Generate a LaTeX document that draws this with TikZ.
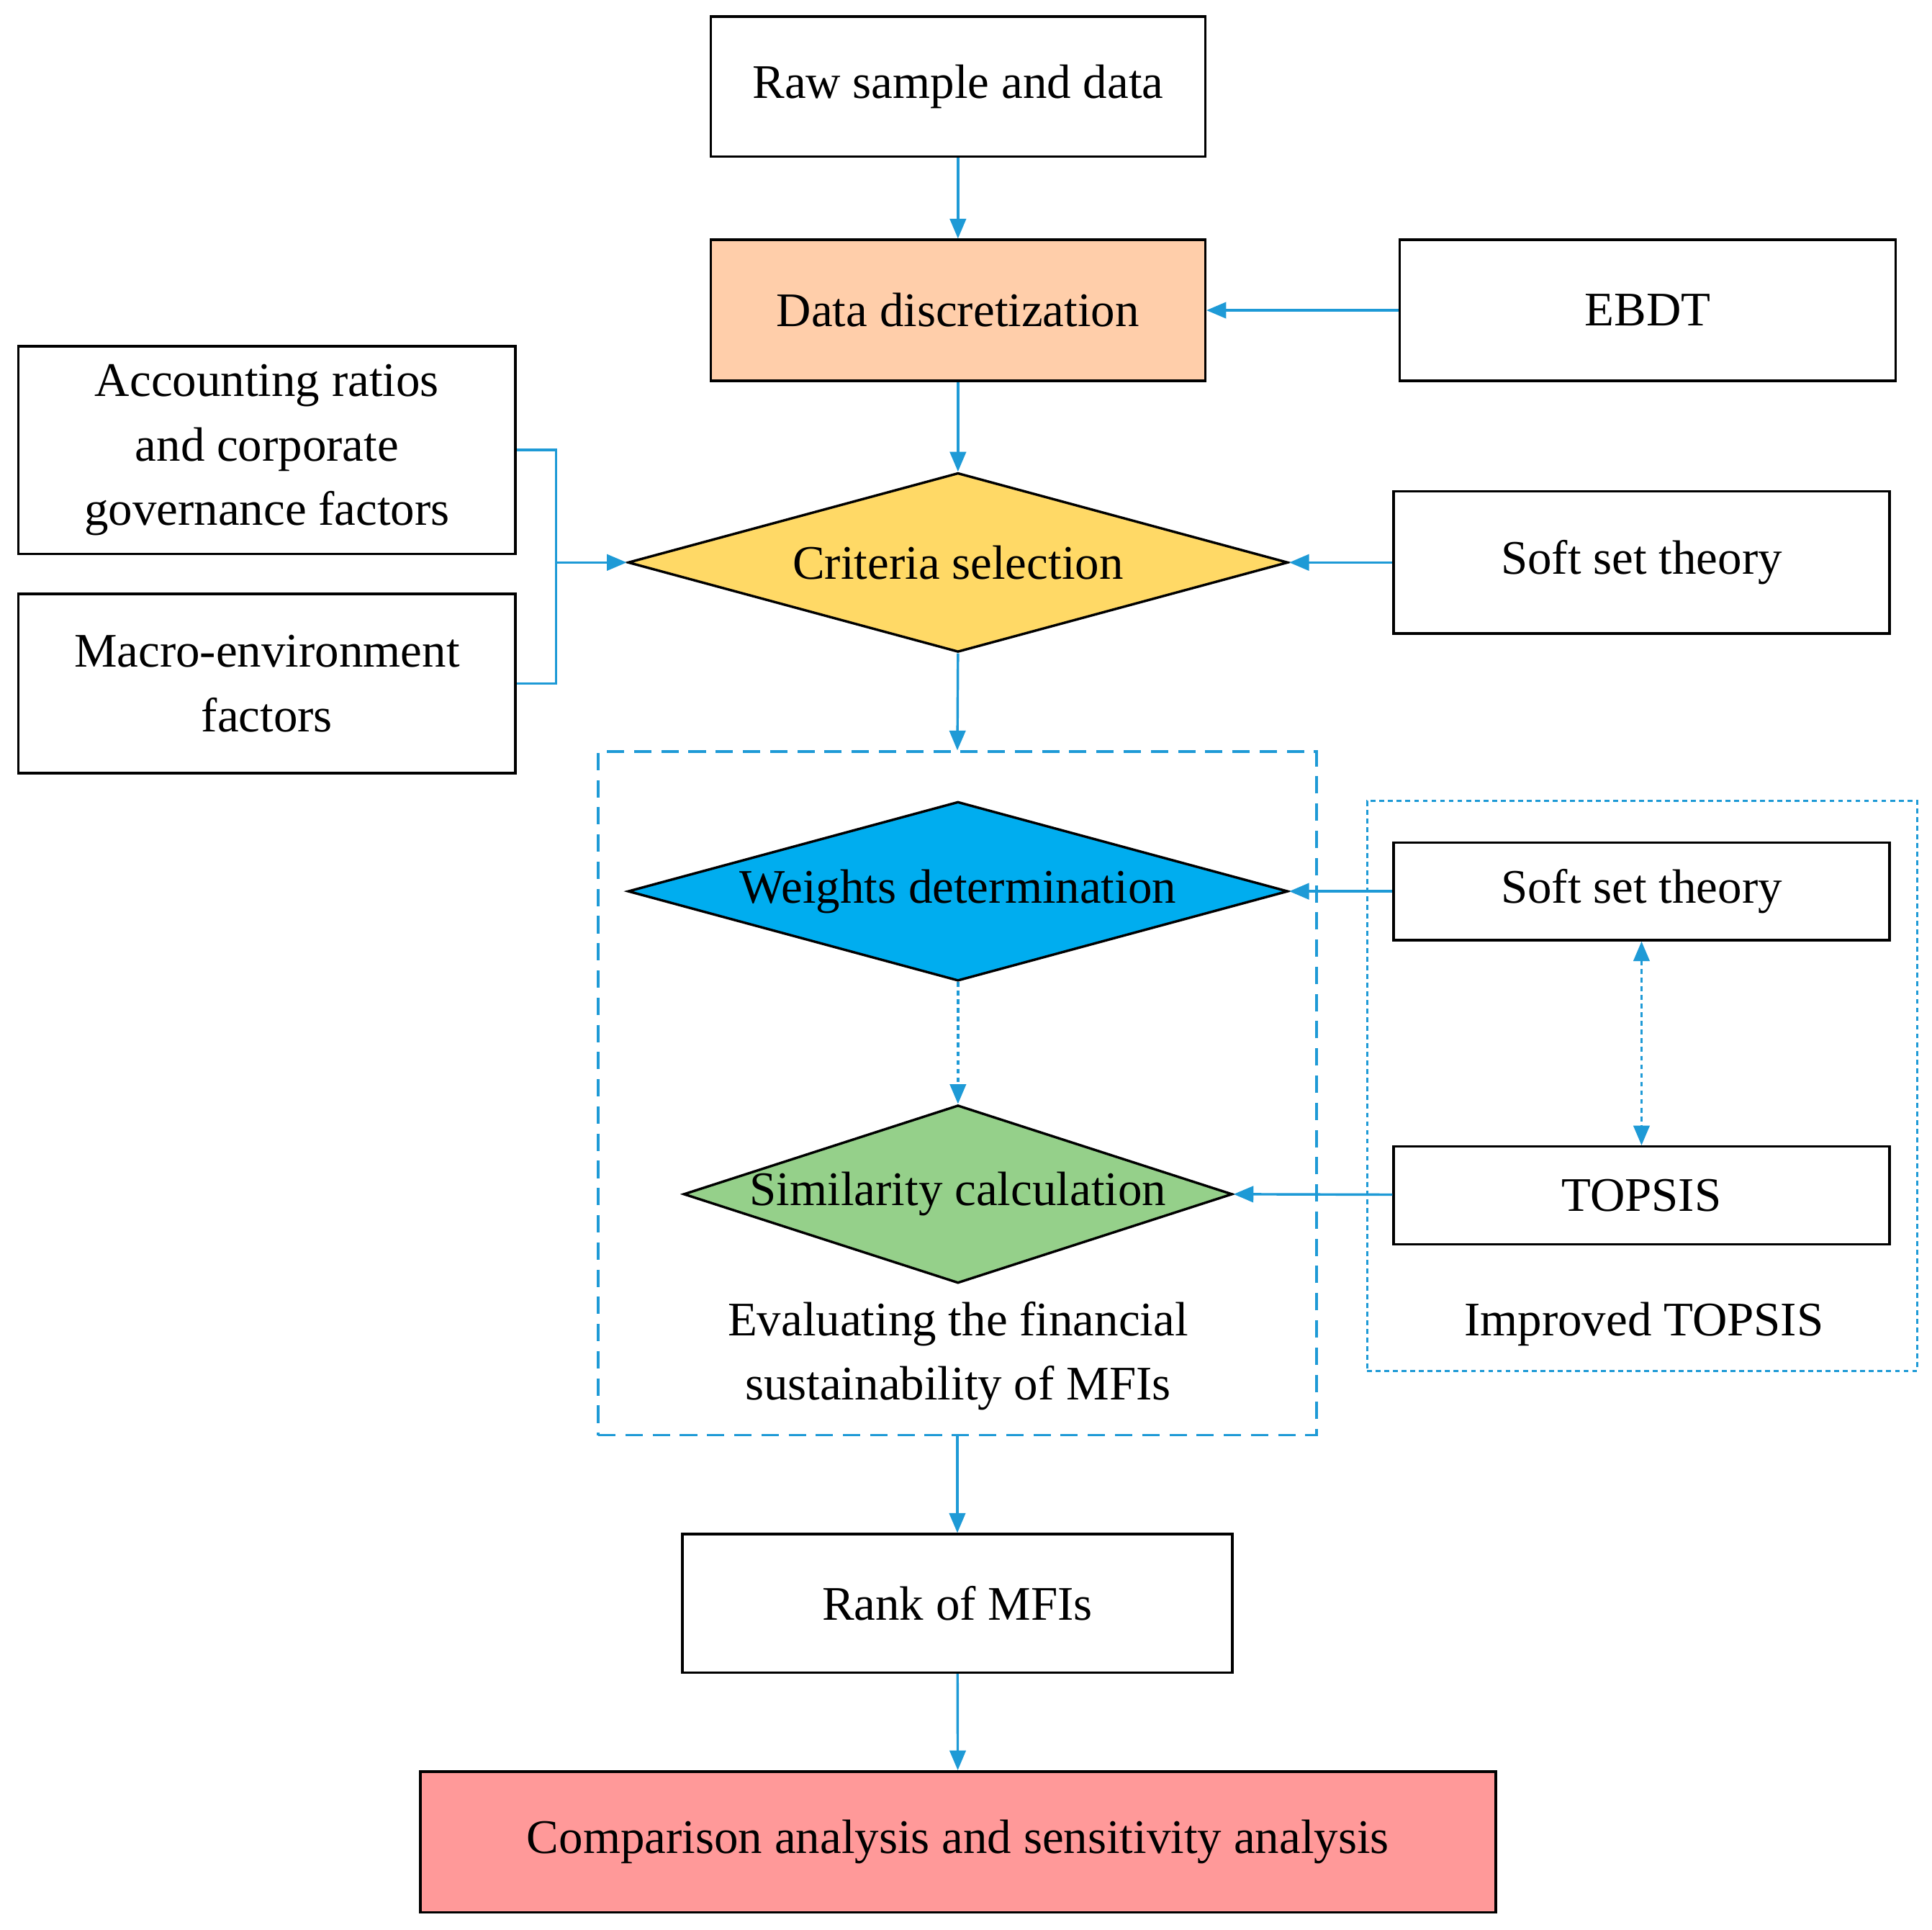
\documentclass[tikz,border=0pt]{standalone}
\usepackage{fontspec}
\setmainfont{Liberation Serif}
\usetikzlibrary{shapes.geometric,arrows.meta}
\definecolor{ln}{HTML}{1E9AD6}
\begin{document}
\begin{tikzpicture}[x=1pt,y=-1pt,
  every node/.style={font=\fontsize{39}{52}\selectfont},
  box/.style={draw=black,line width=2pt,rectangle,inner sep=0pt,align=center},
  dia/.style={draw=black,line width=2pt,diamond,inner sep=0pt},
  arr/.style={draw=ln,line width=2pt,-{Triangle[length=16pt,width=13pt]}},
  lnk/.style={draw=ln,line width=2pt}]
\useasboundingbox (0,0) rectangle (1563,1561);
\fill[white] (0,0) rectangle (1563,1561);
\node[box,minimum width=400,minimum height=113] (raw) at (775,70) {Raw sample and data};
\node[box,fill={rgb,255:red,255;green,206;blue,170},minimum width=400,minimum height=114] (disc) at (775,251) {Data discretization};
\node[box,minimum width=401,minimum height=114] (ebdt) at (1333,251) {EBDT};
\node[dia,fill={rgb,255:red,255;green,217;blue,102},minimum width=534,minimum height=145] (crit) at (775,455) {};
\node at (775,455) {Criteria selection};
\node[box,minimum width=401,minimum height=115] (soft1) at (1328,455) {Soft set theory};
\node[box,minimum width=402,minimum height=168] (acc) at (216,364) {Accounting ratios\\and corporate\\governance factors};
\node[box,minimum width=402,minimum height=145] (mac) at (216,553) {Macro-environment\\factors};
\node[draw=ln,line width=2pt,dash pattern=on 14pt off 8pt,minimum width=581,minimum height=553,inner sep=0pt] (dbox) at (774.5,884.5) {};
\node[dia,fill=cyan,minimum width=534,minimum height=145] (wei) at (775,721) {};
\node at (775,721) {Weights determination};
\node[dia,fill={rgb,255:red,149;green,208;blue,138},minimum width=444,minimum height=144] (sim) at (775,966) {};
\node at (775,966) {Similarity calculation};
\node[align=center] (evtxt) at (775,1097) {Evaluating the financial\\sustainability of MFIs};
\node[draw=ln,line width=2pt,dash pattern=on 4pt off 3pt,minimum width=445,minimum height=461,inner sep=0pt] (obox) at (1328.5,878.5) {};
\node[box,minimum width=401,minimum height=79] (soft2) at (1328,721) {Soft set theory};
\node[box,minimum width=401,minimum height=79] (top) at (1328,967) {TOPSIS};
\node (imp) at (1330,1071) {Improved TOPSIS};
\node[box,minimum width=445,minimum height=112] (rank) at (774.5,1297) {Rank of MFIs};
\node[box,fill={rgb,255:red,255;green,153;blue,153},minimum width=870,minimum height=114] (comp) at (775,1490) {Comparison analysis and sensitivity analysis};
\coordinate (j) at (450,455);
\draw[arr] (raw) -- (disc);
\draw[arr] (ebdt) -- (disc);
\draw[arr] (disc) -- (crit);
\draw[arr] (soft1) -- (crit);
\draw[lnk] (acc.east) -| (j) |- (mac.east);
\draw[arr] (j) -- (crit.west);
\draw[arr] (crit.south) -- (dbox.north);
\draw[arr,dash pattern=on 4pt off 3pt] (wei.south) -- (sim.north);
\draw[arr] (soft2) -- (wei.east);
\draw[arr] (top) -- (sim.east);
\draw[arr,{Triangle[length=16pt,width=13pt]}-{Triangle[length=16pt,width=13pt]},dash pattern=on 4pt off 3pt] (soft2) -- (top);
\draw[arr] (dbox.south) -- (rank);
\draw[arr] (rank) -- (comp);
\end{tikzpicture}
\end{document}
